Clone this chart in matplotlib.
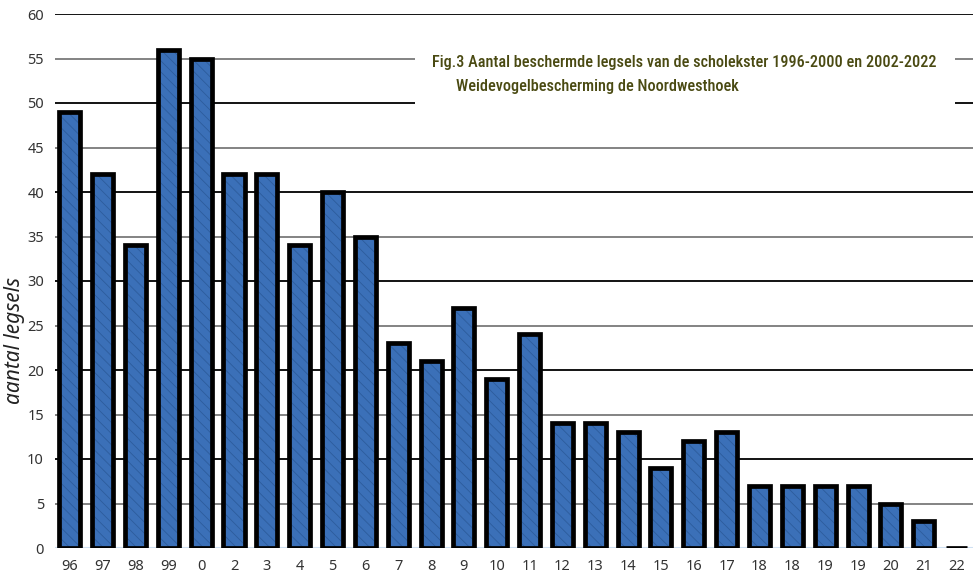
import matplotlib
matplotlib.use("Agg")
import matplotlib.pyplot as plt
from matplotlib.patches import Rectangle
from matplotlib import font_manager
import numpy as np

# Broedseizoenen (laatste twee cijfers van het jaar)
seasons = ["96", "97", "98", "99", "0", "2", "3", "4", "5", "6", "7", "8", "9", "10",
           "11", "12", "13", "14", "15", "16", "17", "18", "18", "19", "19", "20", "21", "22"]
# Aantal beschermde legsels per seizoen
nests = [49, 42, 34, 56, 55, 42, 42, 34, 40, 35, 23, 21, 27, 19,
         24, 14, 14, 13, 9, 12, 13, 7, 7, 7, 7, 5, 3, 0]
y_ticks = list(range(0, 61, 5))

plt.rcParams["font.family"] = ["Noto Sans", "DejaVu Sans"]
plt.rcParams["hatch.linewidth"] = 0.6

fig = plt.figure(figsize=(9.76, 5.74), dpi=100)
ax = fig.add_axes([55 / 976, 26 / 574, 918 / 976, 534 / 574])

x = np.arange(len(seasons))
ax.set_xlim(-0.45, len(seasons) - 0.5)
ax.set_ylim(0, 60)

# horizontale hulplijnen: zwart op tientallen, grijs op vijftallen
for v in y_ticks:
    col = "#000000" if v % 10 == 0 else "#7a7a7a"
    ax.axhline(v, color=col, lw=1.3, zorder=1)
ax.axhline(0, color="#cfe0f2", lw=1.5, zorder=1.5)

# kolommen met lichte arcering en dikke zwarte rand
ax.bar(x, nests, width=0.64, color="#3b70b8", edgecolor="#2d5c9c",
       linewidth=0, hatch="\\\\\\", zorder=3)
ax.bar(x, nests, width=0.64, color="none", edgecolor="#000000",
       linewidth=3.4, joinstyle="miter", zorder=4)

ax.set_yticks(y_ticks)
ax.set_xticks(x)
ax.set_xticklabels(seasons)
ax.tick_params(axis="both", length=0, labelsize=10.5, colors="#333333")
ax.tick_params(axis="y", pad=8)
ax.tick_params(axis="x", pad=8)
for s in ax.spines.values():
    s.set_visible(False)

fig.text(15 / 976, 1 - 340 / 574, "aantal legsels", rotation=90, style="italic",
         fontsize=15, color="#222222", ha="center", va="center")

# titelblok met witte achtergrond over de hulplijnen
fig.patches.append(Rectangle((415 / 976, 1 - 106 / 574), 540 / 976, 60 / 574,
                             transform=fig.transFigure, facecolor="white",
                             edgecolor="none", zorder=2))

# smalste beschikbare lettertype voor de titel
names = {f.name for f in font_manager.fontManager.ttflist}
title_font = "DejaVu Sans"
for cand in ["Liberation Sans Narrow", "Roboto Condensed", "Open Sans Condensed",
             "Noto Sans Condensed", "Roboto", "Inter"]:
    if cand in names:
        title_font = cand
        break

t1 = fig.text(432 / 976, 1 - 62 / 574,
              "Fig.3 Aantal beschermde legsels van de scholekster 1996-2000 en 2002-2022",
              fontsize=13, color="#4a4a12", family=title_font, weight="medium",
              ha="left", va="center", zorder=5)
t2 = fig.text(456 / 976, 1 - 87 / 574, "Weidevogelbescherming de Noordwesthoek",
              fontsize=13, color="#4a4a12", family=title_font, weight="medium",
              ha="left", va="center", zorder=5)

# titelgrootte zo kiezen dat de eerste regel tot x=935 px loopt
renderer = fig.canvas.get_renderer()
w = t1.get_window_extent(renderer).width
size = 13 * (935 - 432) / w
t1.set_fontsize(size)
t2.set_fontsize(size)

fig.savefig("out.png", dpi=100)
